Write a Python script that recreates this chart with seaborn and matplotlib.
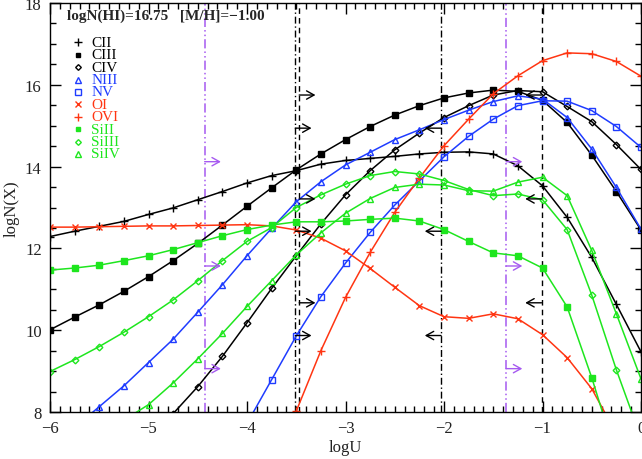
import numpy as np
import pandas as pd
import matplotlib
matplotlib.use("Agg")
import matplotlib.pyplot as plt
import seaborn as sns
from matplotlib.ticker import MultipleLocator

nan = np.nan

# Ionization parameter grid
logu = [-6.0, -5.75, -5.5, -5.25, -5.0, -4.75, -4.5, -4.25, -4.0, -3.75, -3.5,
        -3.25, -3.0, -2.75, -2.5, -2.25, -2.0, -1.75, -1.5, -1.25, -1.0, -0.75,
        -0.5, -0.25, 0.0]

# Model column densities, logN(X)
c_ii = [12.29, 12.42, 12.54, 12.66, 12.83, 12.99, 13.19, 13.39, 13.60, 13.78, 13.90,
        14.06, 14.15, 14.20, 14.25, 14.31, 14.35, 14.36, 14.31, 14.02, 13.53, 12.76,
        11.78, 10.63, 9.47]
c_iii = [10.01, 10.32, 10.62, 10.95, 11.31, 11.70, 12.12, 12.57, 13.03, 13.48, 13.92,
         14.31, 14.66, 14.98, 15.26, 15.49, 15.68, 15.80, 15.87, 15.84, 15.62, 15.08,
         14.28, 13.39, 12.45]
c_iv = [nan, nan, nan, nan, 7.35, 7.96, 8.62, 9.36, 10.18, 11.02, 11.82,
        12.60, 13.31, 13.90, 14.41, 14.82, 15.20, 15.49, 15.75, 15.86, 15.83, 15.47,
        15.10, 14.54, 13.93]
n_iii = [nan, 7.62, 8.13, 8.64, 9.21, 9.78, 10.44, 11.11, 11.82, 12.49, 13.14,
         13.63, 14.04, 14.35, 14.66, 14.90, 15.15, 15.38, 15.59, 15.73, 15.65, 15.20,
         14.43, 13.49, 12.47]
n_v = [nan, nan, nan, nan, nan, nan, nan, nan, 7.72, 8.79, 9.86,
       10.82, 11.64, 12.39, 13.06, 13.65, 14.24, 14.74, 15.16, 15.49, 15.61, 15.60,
       15.37, 14.98, 14.47]
o_i = [12.52, 12.52, 12.53, 12.54, 12.55, 12.55, 12.56, 12.57, 12.58, 12.55, 12.45,
       12.25, 11.94, 11.51, 11.05, 10.60, 10.33, 10.29, 10.40, 10.28, 9.89, 9.33,
       8.57, 7.47, nan]
o_vi = [nan, nan, nan, nan, nan, nan, nan, nan, nan, nan, 8.02,
        9.50, 10.80, 11.90, 12.88, 13.72, 14.51, 15.16, 15.78, 16.22, 16.59, 16.78,
        16.76, 16.57, 16.21]
si_ii = [11.47, 11.52, 11.59, 11.70, 11.82, 11.97, 12.14, 12.31, 12.46, 12.57, 12.65,
         12.65, 12.67, 12.71, 12.74, 12.67, 12.46, 12.17, 11.89, 11.82, 11.52, 10.57,
         8.84, 6.90, nan]
si_iii = [8.99, 9.28, 9.60, 9.95, 10.33, 10.74, 11.21, 11.70, 12.17, 12.51, 13.00,
          13.31, 13.57, 13.78, 13.88, 13.82, 13.66, 13.44, 13.29, 13.33, 13.19, 12.46,
          10.86, 9.03, 7.37]
si_iv = [nan, nan, nan, 7.80, 8.18, 8.71, 9.30, 9.92, 10.58, 11.21, 11.84,
         12.38, 12.86, 13.22, 13.49, 13.57, 13.55, 13.41, 13.40, 13.62, 13.74, 13.29,
         11.95, 10.40, 8.81]

ion_names = ["CII", "CIII", "CIV", "NIII", "NV", "OI", "OVI", "SiII", "SiIII", "SiIV"]
ion_values = [c_ii, c_iii, c_iv, n_iii, n_v, o_i, o_vi, si_ii, si_iii, si_iv]

# Observed limits on logU: bound position, arrow direction (+1 right, -1 left)
purple_bounds = [-4.43, -1.37]
purple_dirs = [1, 1]
purple_levels = [14.12, 11.57, 9.06]
dashdot_bounds = [-3.51, -2.03]
dashdot_dirs = [1, -1]
dashdot_levels = [14.94, 12.42, 9.87]
dashed_bounds = [-3.47, -1.01]
dashed_dirs = [1, -1]
dashed_levels = [15.75, 13.21, 10.67]

header = "logN(HI)=16.75   [M/H]=\u22121.00"

BLACK = "black"
BLUE = "#1f3cff"
RED = "#ff3512"
GREEN = "#1ee61e"
PURPLE = "#a65af0"

marker_style = {
    "CII":   dict(color=BLACK, marker="+", ms=6, mfc=BLACK),
    "CIII":  dict(color=BLACK, marker="s", ms=4.2, mfc=BLACK),
    "CIV":   dict(color=BLACK, marker="D", ms=3.4, mfc="none"),
    "NIII":  dict(color=BLUE, marker="^", ms=5, mfc="none"),
    "NV":    dict(color=BLUE, marker="s", ms=5, mfc="none"),
    "OI":    dict(color=RED, marker="x", ms=4.5, mfc=RED),
    "OVI":   dict(color=RED, marker="+", ms=6, mfc=RED),
    "SiII":  dict(color=GREEN, marker="s", ms=4.2, mfc=GREEN),
    "SiIII": dict(color=GREEN, marker="D", ms=3.4, mfc="none"),
    "SiIV":  dict(color=GREEN, marker="^", ms=5, mfc="none"),
}

sns.set_theme(style="ticks")
plt.rcParams["font.family"] = ["Liberation Serif", "DejaVu Serif"]
plt.rcParams["axes.unicode_minus"] = True

W, H = 642, 460
fig = plt.figure(figsize=(W / 100, H / 100), dpi=100)
ax = fig.add_axes([50 / W, 47 / H, 591 / W, 409 / H])

for name, vals in zip(ion_names, ion_values):
    st = marker_style[name]
    df = pd.DataFrame({"logU": logu, "logN": vals}).dropna()
    sns.lineplot(data=df, x="logU", y="logN", ax=ax, color=st["color"],
                 marker=st["marker"], markersize=st["ms"],
                 markerfacecolor=st["mfc"], markeredgecolor=st["color"],
                 markeredgewidth=1.0, linewidth=1.1, estimator=None,
                 sort=False, legend=False)

# Vertical bounds on logU
for xb in purple_bounds:
    ax.axvline(xb, color=PURPLE, lw=1.1, ls=(0, (6, 2, 1, 2, 1, 2)), zorder=1)
for xb in dashdot_bounds:
    ax.axvline(xb, color=BLACK, lw=1.0, ls=(0, (5, 2, 1, 2)), zorder=1)
for xb in dashed_bounds:
    ax.axvline(xb, color=BLACK, lw=1.0, ls=(0, (4, 3)), zorder=1)

arrow_len = 0.165


def draw_arrows(bounds, dirs, levels, color):
    for xb, sign in zip(bounds, dirs):
        for yv in levels:
            ax.annotate("", xy=(xb + sign * arrow_len, yv), xytext=(xb, yv),
                        arrowprops=dict(arrowstyle="->,head_length=0.45,head_width=0.25",
                                        color=color, lw=1.0, shrinkA=0, shrinkB=0))


draw_arrows(purple_bounds, purple_dirs, purple_levels, PURPLE)
draw_arrows(dashdot_bounds, dashdot_dirs, dashdot_levels, BLACK)
draw_arrows(dashed_bounds, dashed_dirs, dashed_levels, BLACK)

ax.set_xlim(-6, 0)
ax.set_ylim(8, 18)
ax.xaxis.set_major_locator(MultipleLocator(1))
ax.xaxis.set_minor_locator(MultipleLocator(0.1))
ax.yaxis.set_major_locator(MultipleLocator(2))
ax.yaxis.set_minor_locator(MultipleLocator(0.5))
ax.tick_params(which="both", direction="in", top=True, right=True,
               color="black", width=1.0, labelsize=12, labelcolor="#222222")
ax.tick_params(which="major", length=8, pad=6)
ax.tick_params(which="minor", length=4)
for sp in ax.spines.values():
    sp.set_color("black")
    sp.set_linewidth(1.0)

ax.set_xlabel("logU", fontsize=12, labelpad=2, color="#222222")
ax.set_ylabel("logN(X)", fontsize=12, labelpad=4, color="#222222")

# Header and species key
ax.text((66.7 - 50) / 591, (413 - 16) / 409, header, transform=ax.transAxes,
        fontsize=11, fontweight="bold", va="center", ha="left")

row0, row_step = 43.3, 12.4
for i, name in enumerate(ion_names):
    st = marker_style[name]
    yfrac = (413 - (row0 + i * row_step)) / 409
    ax.plot([(78.3 - 50) / 591], [yfrac], transform=ax.transAxes, linestyle="none",
            marker=st["marker"], ms=st["ms"] * 0.85, mfc=st["mfc"], mec=st["color"],
            mew=1.0, clip_on=False)
    ax.text((91.5 - 50) / 591, yfrac, name, transform=ax.transAxes, fontsize=11,
            color=st["color"], va="center", ha="left")

fig.savefig("out.png", dpi=100)
